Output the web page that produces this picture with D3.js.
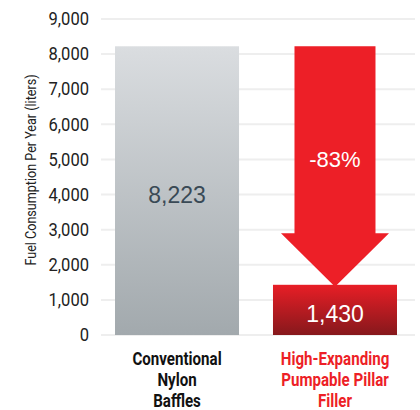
<!DOCTYPE html>
<html>
<head>
<meta charset="utf-8">
<script src="https://cdn.jsdelivr.net/npm/d3@7"></script>
<style>
  body { margin: 0; background: #fff; }
  svg { display: block; }
</style>
</head>
<body>
<div id="chart-area"></div>
<script>

// SVG Size
var width = 420,
	height = 410;

// data
var categories = ["Conventional Nylon Baffles", "High-Expanding Pumpable Pillar Filler"];
var categoryLines = [["Conventional", "Nylon", "Baffles"], ["High-Expanding", "Pumpable Pillar", "Filler"]];
var values = [8223, 1430];
var valueLabels = ["8,223", "1,430"];
var changeLabel = "-83%";
var yTicks = [0, 1000, 2000, 3000, 4000, 5000, 6000, 7000, 8000, 9000];
var yTitle = "Fuel Consumption Per Year (liters)";

// no condensed font installed, so Roboto gets squeezed with a scale
var condensed = "Roboto, 'Liberation Sans', sans-serif";
var plain = "'Liberation Sans', Arial, sans-serif";

var svg = d3.select("#chart-area")
	.append("svg")
	.attr("width", width)
	.attr("height", height);

var defs = svg.append("defs");

var grayGrad = defs.append("linearGradient").attr("id", "grayGrad")
	.attr("x1", 0).attr("y1", 0).attr("x2", 0).attr("y2", 1);
grayGrad.append("stop").attr("offset", "0%").attr("stop-color", "#dadde0");
grayGrad.append("stop").attr("offset", "100%").attr("stop-color", "#a2a9ad");

var redGrad = defs.append("linearGradient").attr("id", "redGrad")
	.attr("x1", 0).attr("y1", 0).attr("x2", 0).attr("y2", 1);
redGrad.append("stop").attr("offset", "0%").attr("stop-color", "#e81e26");
redGrad.append("stop").attr("offset", "100%").attr("stop-color", "#86181c");

// scales
var y = d3.scaleLinear()
	.domain([0, 9000])
	.range([335, 19]);

var x = d3.scaleBand()
	.domain(categories)
	.range([115, 397])
	.paddingInner(0.215)
	.paddingOuter(0);

// gridlines
svg.append("g")
	.selectAll("line")
	.data(yTicks)
	.enter()
	.append("line")
	.attr("x1", 101)
	.attr("x2", 415)
	.attr("y1", function (d) { return y(d); })
	.attr("y2", function (d) { return y(d); })
	.attr("stroke", "#eeeeee")
	.attr("stroke-width", 2);

// y axis (labels only)
var yAxis = d3.axisLeft(y)
	.tickValues(yTicks)
	.tickFormat(d3.format(","))
	.tickSize(0)
	.tickPadding(0);

var yAxisG = svg.append("g")
	.attr("transform", "translate(89,0)")
	.call(yAxis);
yAxisG.select(".domain").remove();
yAxisG.selectAll("text")
	.attr("font-family", condensed)
	.attr("font-size", 18)
	.attr("fill", "#222")
	.attr("transform", "scale(0.92,1)");

// y title
svg.append("text")
	.attr("transform", "translate(36,170) rotate(-90) scale(0.9,1)")
	.attr("text-anchor", "middle")
	.attr("font-family", condensed)
	.attr("font-size", 14)
	.attr("fill", "#222")
	.text(yTitle);

// bars
svg.append("g")
	.selectAll("rect")
	.data(values)
	.enter()
	.append("rect")
	.attr("x", function (d, i) { return x(categories[i]); })
	.attr("y", function (d) { return y(d); })
	.attr("width", x.bandwidth())
	.attr("height", function (d) { return y(0) - y(d); })
	.attr("fill", function (d, i) { return i === 0 ? "url(#grayGrad)" : "url(#redGrad)"; });

// arrow from first value down to second value
var cx0 = x(categories[0]) + x.bandwidth() / 2;
var cx = x(categories[1]) + x.bandwidth() / 2;
var shaftHalf = 40.5,
	headHalf = 54;
var arrowTop = y(values[0]),
	headTop = y(2900),
	tip = y(values[1]) + 2;
svg.append("path")
	.attr("d", "M" + (cx - shaftHalf) + "," + arrowTop +
		"L" + (cx + shaftHalf) + "," + arrowTop +
		"L" + (cx + shaftHalf) + "," + headTop +
		"L" + (cx + headHalf) + "," + headTop +
		"L" + cx + "," + tip +
		"L" + (cx - headHalf) + "," + headTop +
		"L" + (cx - shaftHalf) + "," + headTop + "Z")
	.attr("fill", "#ed1f27");

svg.append("text")
	.attr("x", cx)
	.attr("y", 167)
	.attr("text-anchor", "middle")
	.attr("font-family", plain)
	.attr("font-size", 22)
	.attr("fill", "#fff")
	.text(changeLabel);

// value labels
svg.append("text")
	.attr("x", cx0)
	.attr("y", 203)
	.attr("text-anchor", "middle")
	.attr("font-family", plain)
	.attr("font-size", 23)
	.attr("fill", "#394955")
	.text(valueLabels[0]);

svg.append("text")
	.attr("x", cx)
	.attr("y", 322)
	.attr("text-anchor", "middle")
	.attr("font-family", plain)
	.attr("font-size", 23)
	.attr("fill", "#fff")
	.text(valueLabels[1]);

// category labels
categories.forEach(function (c, i) {
	var mid = x(c) + x.bandwidth() / 2;
	categoryLines[i].forEach(function (line, j) {
		svg.append("text")
			.attr("transform", "translate(" + mid + "," + (365 + j * 21) + ") scale(0.84,1)")
			.attr("text-anchor", "middle")
			.attr("font-family", condensed)
			.attr("font-weight", "bold")
			.attr("font-size", 18)
			.attr("fill", i === 0 ? "#111" : "#ed1f27")
			.text(line);
	});
});

</script>
</body>
</html>
